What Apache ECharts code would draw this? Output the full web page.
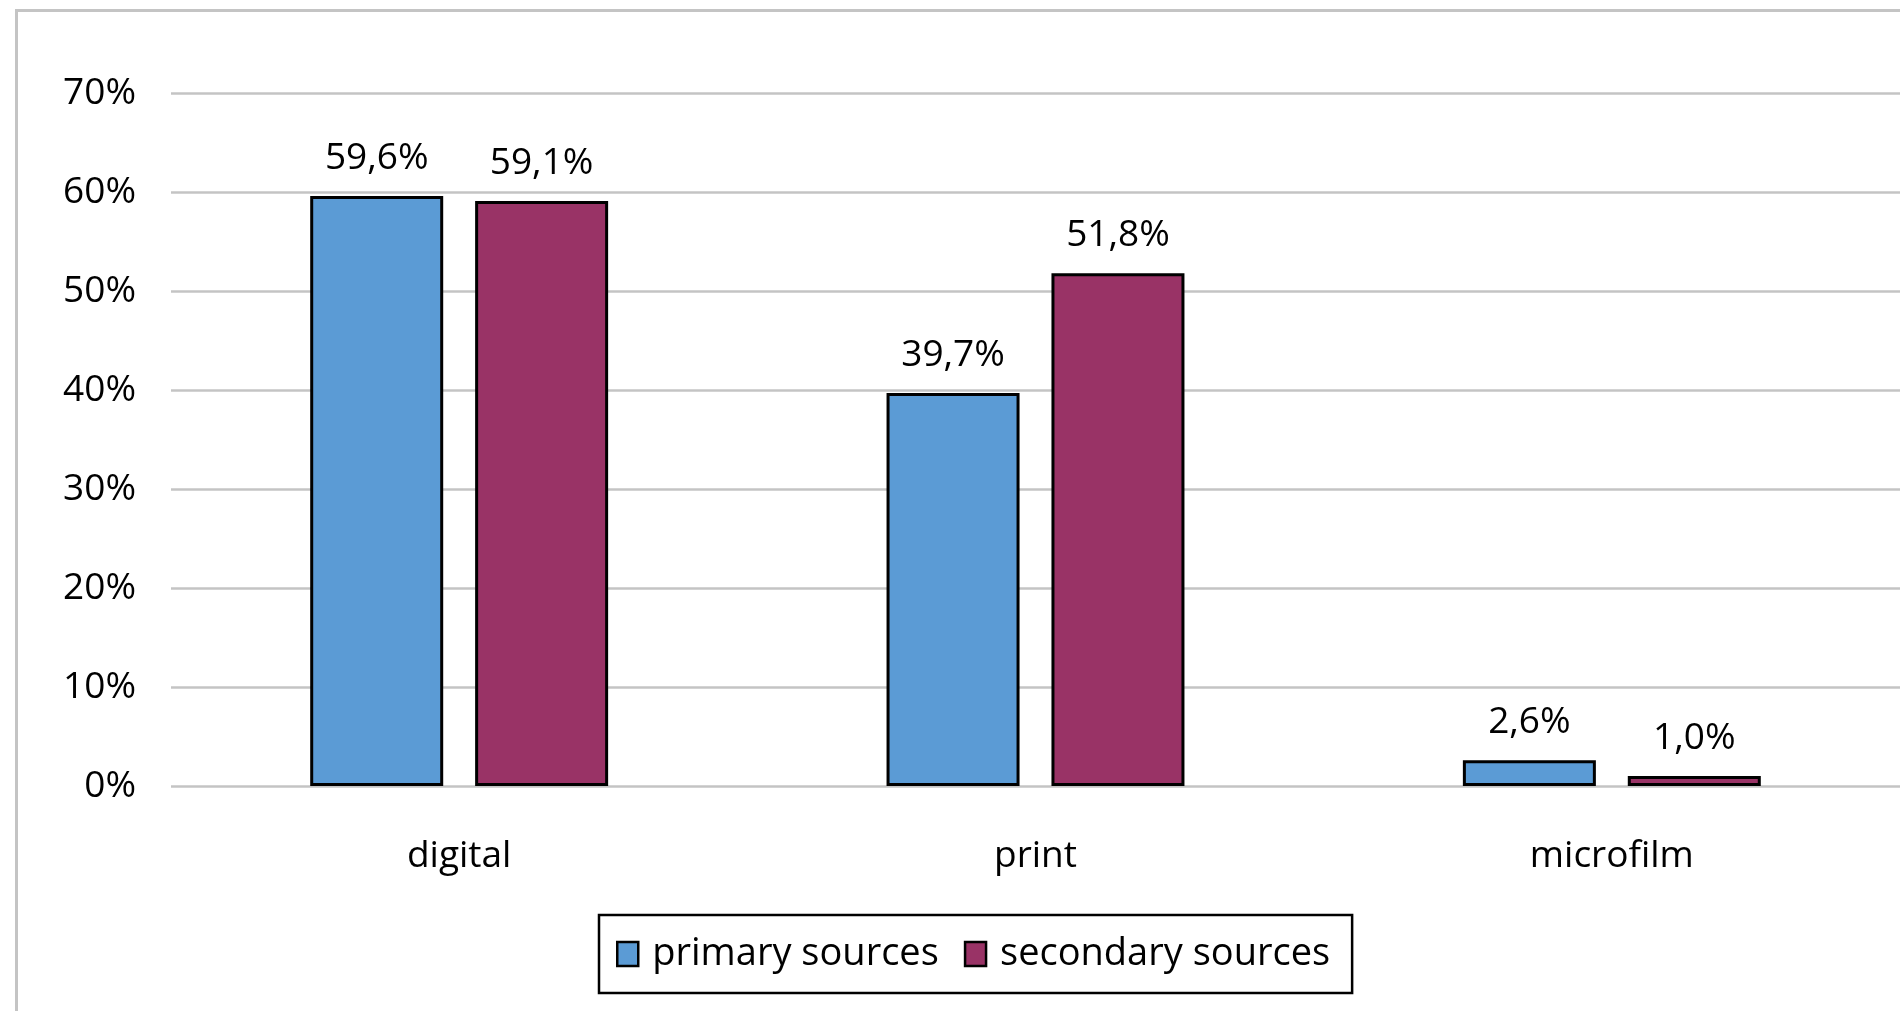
<!DOCTYPE html>
<html>
<head>
<meta charset="utf-8">
<script src="https://cdn.jsdelivr.net/npm/echarts@6/dist/echarts.min.js"></script>
<style>
  html, body { margin: 0; padding: 0; background: #fff; }
  #chart { width: 1900px; height: 1011px; }
</style>
</head>
<body>
<div id="chart"></div>
<script>
// Share of sources by format
const categories = ['digital', 'print', 'microfilm'];
const primarySources = [59.6, 39.7, 2.6];
const secondarySources = [59.1, 51.8, 1.0];
const seriesNames = ['primary sources', 'secondary sources'];
const yTicks = { min: 0, max: 70, interval: 10 };

const FONT = '"Open Sans", sans-serif';
const pct = v => v.toFixed(1).replace('.', ',') + '%';

const chart = echarts.init(document.getElementById('chart'));

const barLabel = {
  show: true,
  position: 'top',
  distance: 19,
  color: '#000',
  fontFamily: FONT,
  fontSize: 37,
  formatter: p => pct(p.value)
};

chart.setOption({
  animation: false,
  backgroundColor: '#fff',
  graphic: [{
    type: 'rect',
    left: 14, top: 8,
    shape: { width: 1900, height: 1020 },
    style: { fill: 'none', stroke: '#c4c4c4', lineWidth: 3 },
    silent: true,
    z: -1
  }],
  grid: { left: 171, right: 0, top: 93, bottom: 225, containLabel: false },
  legend: {
    data: seriesNames,
    left: 599, top: 915,
    orient: 'horizontal',
    borderColor: '#000',
    borderWidth: 2.5,
    padding: [20, 22, 20, 17],
    itemWidth: 21,
    itemHeight: 24,
    itemGap: 25,
    icon: 'rect',
    itemStyle: { borderColor: '#000', borderWidth: 2.5 },
    textStyle: { fontFamily: FONT, fontSize: 38, color: '#000', padding: [0, 0, 0, 9] }
  },
  xAxis: {
    type: 'category',
    data: categories,
    axisLine: { show: false },
    axisTick: { show: false },
    axisLabel: { margin: 52, fontFamily: FONT, fontSize: 37, color: '#000' }
  },
  yAxis: {
    type: 'value',
    min: yTicks.min, max: yTicks.max, interval: yTicks.interval,
    axisLine: { show: false },
    axisTick: { show: false },
    splitLine: { lineStyle: { color: '#c4c4c4', width: 2.5 } },
    axisLabel: { margin: 35, fontFamily: FONT, fontSize: 37, color: '#000', formatter: '{value}%' }
  },
  series: [
    {
      name: seriesNames[0],
      type: 'bar',
      data: primarySources,
      barWidth: 133,
      barGap: '24%',
      itemStyle: { color: '#5b9bd5', borderColor: '#000', borderWidth: 3 },
      label: barLabel
    },
    {
      name: seriesNames[1],
      type: 'bar',
      data: secondarySources,
      barWidth: 133,
      barGap: '24%',
      itemStyle: { color: '#993366', borderColor: '#000', borderWidth: 3 },
      label: barLabel
    }
  ]
});
</script>
</body>
</html>
